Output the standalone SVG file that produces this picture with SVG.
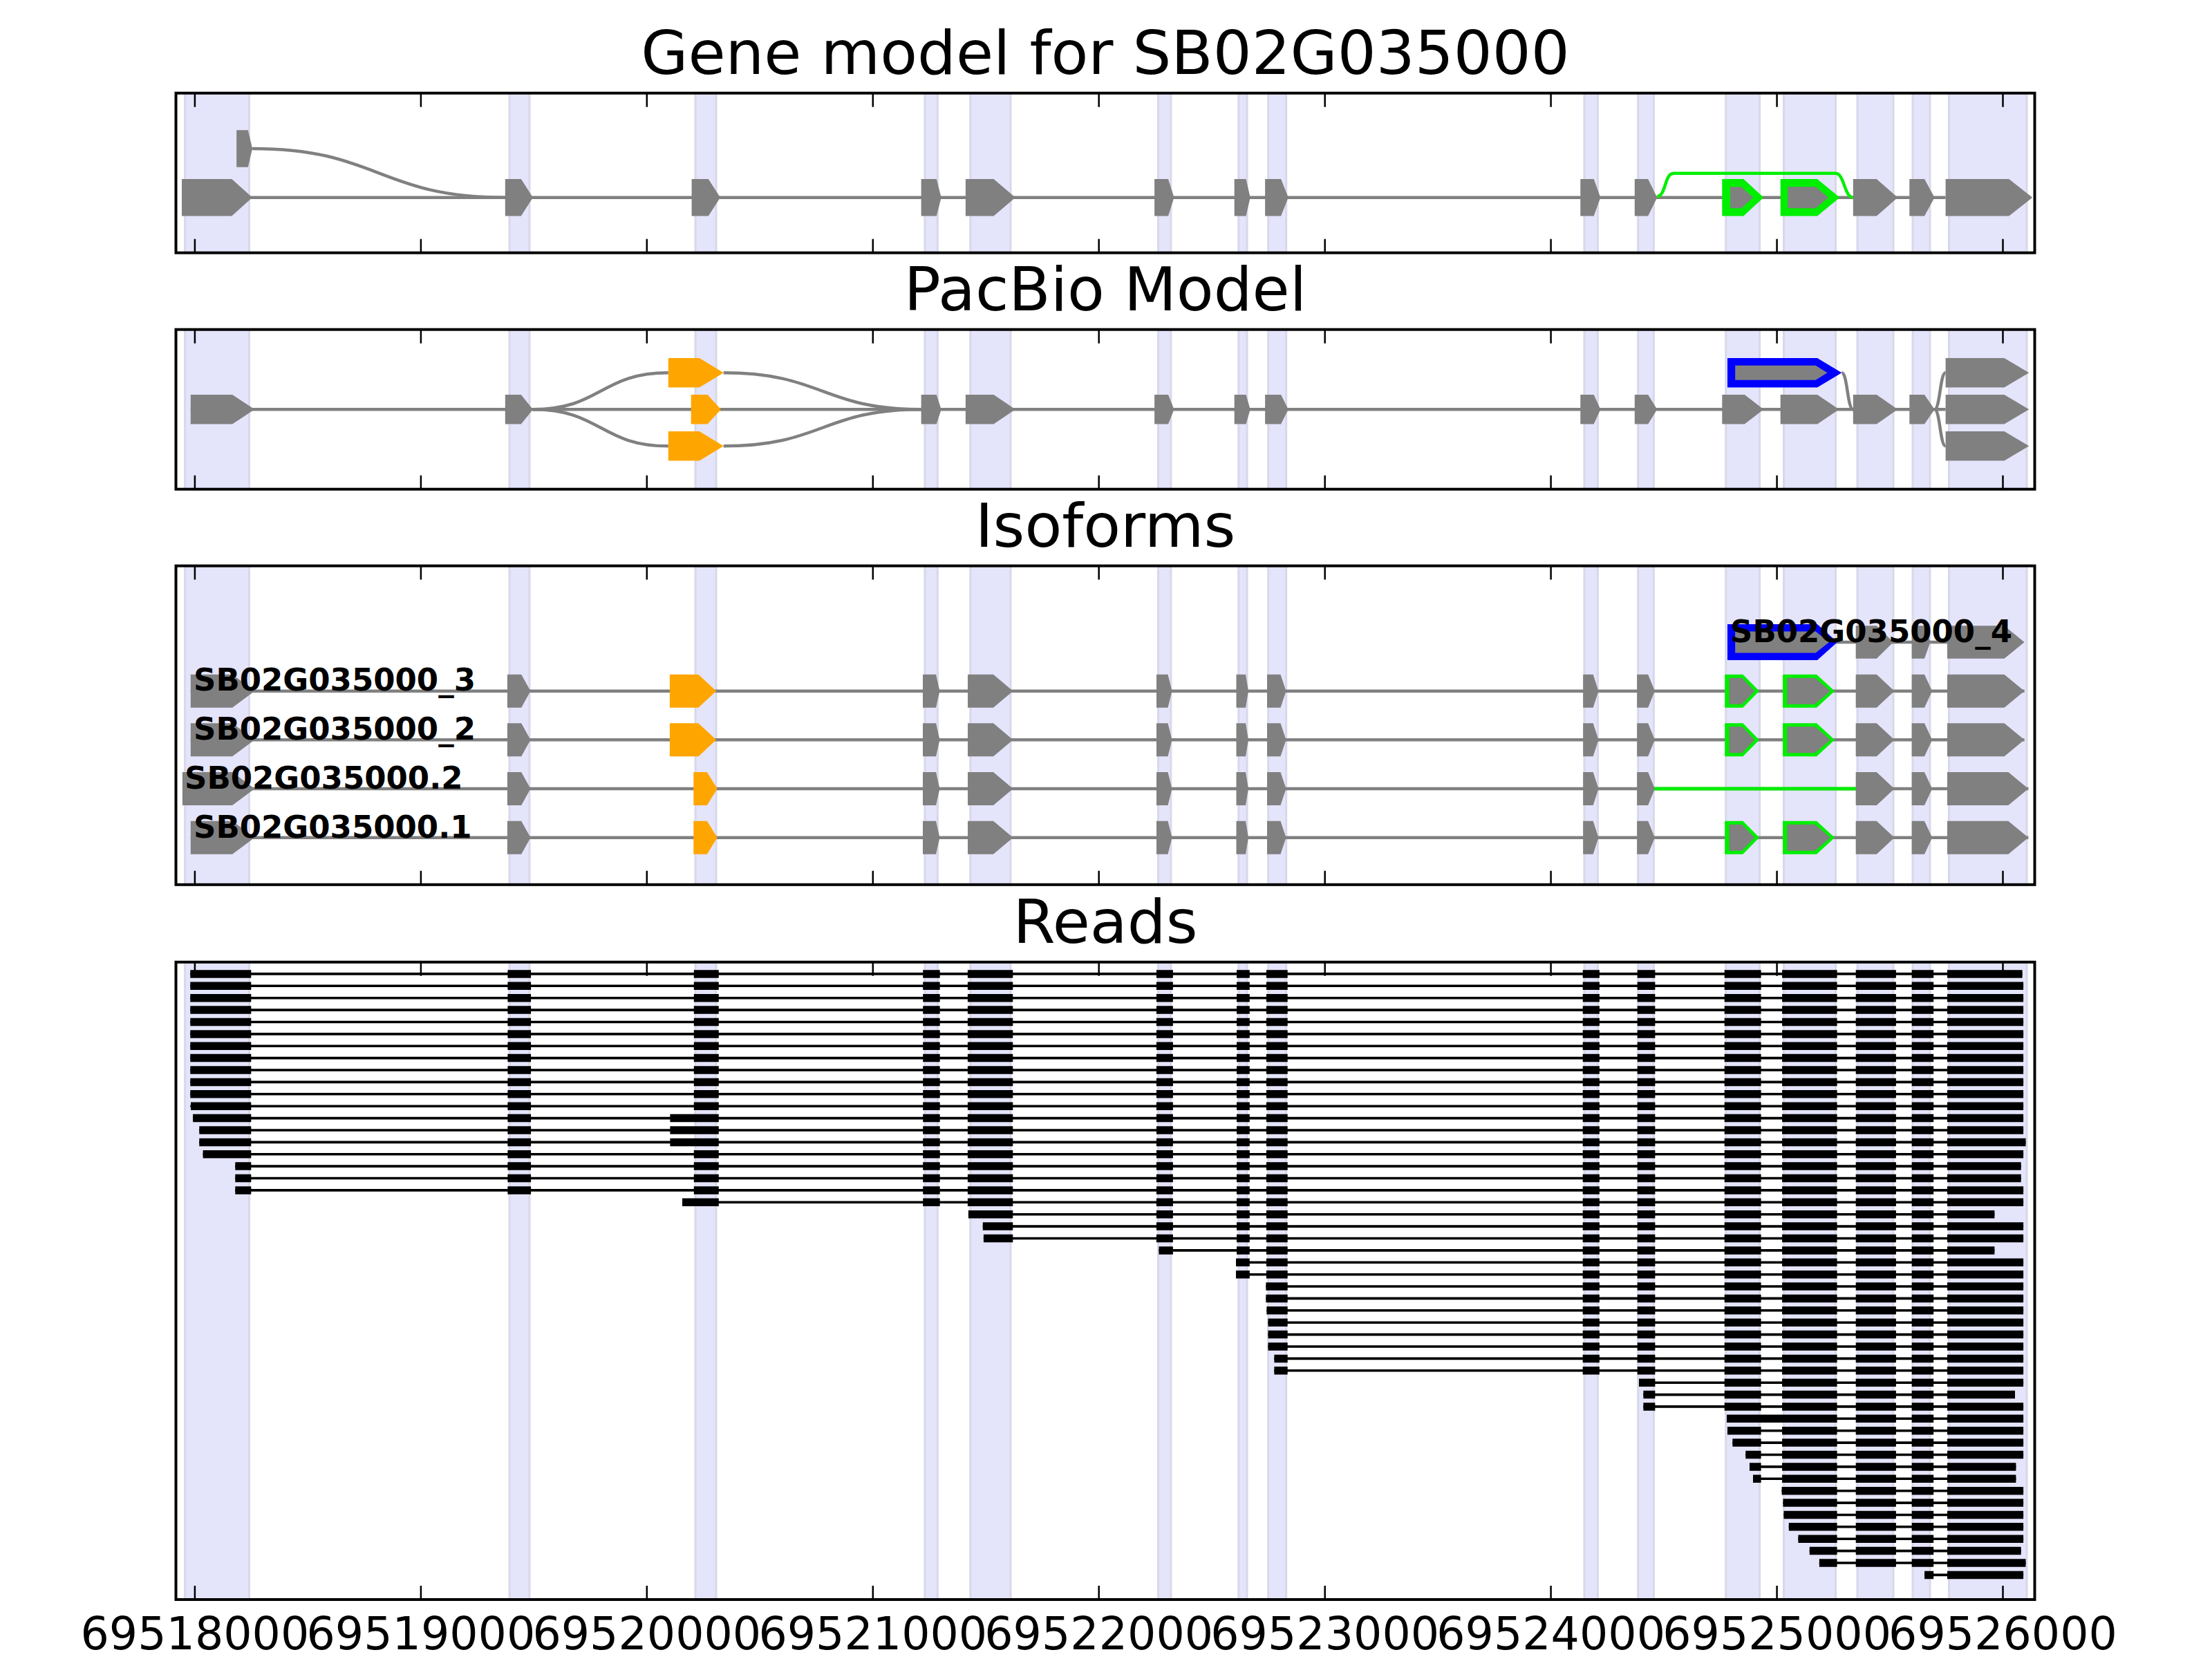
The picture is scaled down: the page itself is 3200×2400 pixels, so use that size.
<svg xmlns="http://www.w3.org/2000/svg" xmlns:xlink="http://www.w3.org/1999/xlink" width="3200" height="2400" viewBox="0 0 3200 2400">
<style>
.bg{fill:#ffffff}
.frame{fill:none;stroke:#000;stroke-width:4}
.span{fill:#e4e4fb;stroke:#d8d8ea;stroke-width:3}
.tick{fill:none;stroke:#000;stroke-width:2.5}
.ex{fill:#808080}
.or{fill:#ffa500}
.gr{fill:#00ee00}
.bl{fill:#0000ff}
.intr{fill:none;stroke:#808080;stroke-width:4.5}
.gline{fill:none;stroke:#00ee00;stroke-width:4.5}
.title{font-family:"DejaVu Sans","Liberation Sans",sans-serif;font-size:88px;text-anchor:middle;fill:#000}
.lab{font-family:"DejaVu Sans","Liberation Sans",sans-serif;font-size:45px;font-weight:bold;fill:#000}
.tl{font-family:"DejaVu Sans","Liberation Sans",sans-serif;font-size:65px;text-anchor:middle;fill:#000}
.blk{fill:none;stroke:#000;stroke-width:11.5}
.rl{fill:none;stroke:#000;stroke-width:3.6}
</style>
<defs>
<path id="k4" d="M1335.2 0H1359.7M1399.9 0H1465.3M1672.9 0H1696.9M1789 0H1807.8M1831.9 0H1862.7M2289.7 0H2313.9M2368.7 0H2394.4M2494.7 0H2547.6M2578.1 0H2657.6M2684.7 0H2742.9M2765.7 0H2797.2"/>
<path id="k6" d="M1672.9 0H1696.9M1789 0H1807.8M1831.9 0H1862.7M2289.7 0H2313.9M2368.7 0H2394.4M2494.7 0H2547.6M2578.1 0H2657.6M2684.7 0H2742.9M2765.7 0H2797.2"/>
<path id="k7" d="M1789 0H1807.8M1831.9 0H1862.7M2289.7 0H2313.9M2368.7 0H2394.4M2494.7 0H2547.6M2578.1 0H2657.6M2684.7 0H2742.9M2765.7 0H2797.2"/>
<path id="k8" d="M1831.9 0H1862.7M2289.7 0H2313.9M2368.7 0H2394.4M2494.7 0H2547.6M2578.1 0H2657.6M2684.7 0H2742.9M2765.7 0H2797.2"/>
<path id="k9" d="M2289.7 0H2313.9M2368.7 0H2394.4M2494.7 0H2547.6M2578.1 0H2657.6M2684.7 0H2742.9M2765.7 0H2797.2"/>
<path id="k11" d="M2494.7 0H2547.6M2578.1 0H2657.6M2684.7 0H2742.9M2765.7 0H2797.2"/>
<path id="k12" d="M2578.1 0H2657.6M2684.7 0H2742.9M2765.7 0H2797.2"/>
<path id="k13" d="M2684.7 0H2742.9M2765.7 0H2797.2"/>
<polygon id="q1" points="275.8,-24 336.1,-24 368.4,0 336.1,24 275.8,24"/>
<polygon id="q1b" points="263.9,-24 336.1,-24 368.4,0 336.1,24 263.9,24"/>
<polygon id="q2" points="733.9,-24 754.2,-24 767.5,0 754.2,24 733.9,24"/>
<polygon id="qoB" points="968.9,-24 1010.3,-24 1036.2,0 1010.3,24 968.9,24"/>
<polygon id="qoS" points="1003.3,-24 1022.9,-24 1037.6,0 1022.9,24 1003.3,24"/>
<polygon id="q4" points="1335,-24 1354,-24 1359.5,0 1354,24 1335,24"/>
<polygon id="q5" points="1400,-24 1437,-24 1465.5,0 1437,24 1400,24"/>
<polygon id="q6" points="1673,-24 1689.5,-24 1695.5,0 1689.5,24 1673,24"/>
<polygon id="q7" points="1788.5,-24 1802,-24 1806,0 1802,24 1788.5,24"/>
<polygon id="q8" points="1833,-24 1852.5,-24 1860.5,0 1852.5,24 1833,24"/>
<polygon id="q9" points="2290.2,-24 2304.7,-24 2312.5,0 2304.7,24 2290.2,24"/>
<polygon id="q10" points="2368.2,-24 2384.2,-24 2393.9,0 2384.2,24 2368.2,24"/>
<polygon id="q11o" points="2495.2,-24 2521.4,-24 2545.1,0 2521.4,24 2495.2,24"/>
<polygon id="q11i" points="2501.5,-19 2520,-19 2538.3,0 2520,19 2501.5,19"/>
<polygon id="q12o" points="2579,-24 2628,-24 2654.2,0 2628,24 2579,24"/>
<polygon id="q12i" points="2585.4,-19 2625.6,-19 2647.9,0 2625.6,19 2585.4,19"/>
<polygon id="q13" points="2684.7,-24 2714.8,-24 2740.5,0 2714.8,24 2684.7,24"/>
<polygon id="q14" points="2765.7,-24 2784,-24 2795.2,0 2784,24 2765.7,24"/>
<polygon id="q15a" points="2817,-24 2899.5,-24 2928.6,0 2899.5,24 2817,24"/>
<polygon id="q15b" points="2817,-24 2905.3,-24 2934.4,0 2905.3,24 2817,24"/>
</defs>
<rect class="bg" x="0" y="0" width="3200" height="2400"/>

<g id="titles">
<text class="title" x="1599" y="107">Gene model for SB02G035000</text>
<text class="title" x="1599" y="449">PacBio Model</text>
<text class="title" x="1599" y="791">Isoforms</text>
<text class="title" x="1599" y="1364">Reads</text>
</g>

<g id="exon-spans">
<g id="spans-p1">
<rect class="span" x="267.6" y="134.7" width="92.9" height="231"/><rect class="span" x="737" y="134.7" width="29" height="231"/><rect class="span" x="1006" y="134.7" width="30" height="231"/><rect class="span" x="1338" y="134.7" width="18.4" height="231"/><rect class="span" x="1403.8" y="134.7" width="58.2" height="231"/><rect class="span" x="1675.5" y="134.7" width="18.4" height="231"/><rect class="span" x="1791.8" y="134.7" width="12.2" height="231"/><rect class="span" x="1834.7" y="134.7" width="26" height="231"/><rect class="span" x="2292" y="134.7" width="19.5" height="231"/><rect class="span" x="2369.7" y="134.7" width="22.7" height="231"/><rect class="span" x="2496.7" y="134.7" width="48.9" height="231"/><rect class="span" x="2580.5" y="134.7" width="75.1" height="231"/><rect class="span" x="2687" y="134.7" width="52" height="231"/><rect class="span" x="2767" y="134.7" width="25" height="231"/><rect class="span" x="2819.5" y="134.7" width="112.5" height="231"/>
</g>
<g id="spans-p2">
<rect class="span" x="267.6" y="476.7" width="92.9" height="231"/><rect class="span" x="737" y="476.7" width="29" height="231"/><rect class="span" x="1006" y="476.7" width="30" height="231"/><rect class="span" x="1338" y="476.7" width="18.4" height="231"/><rect class="span" x="1403.8" y="476.7" width="58.2" height="231"/><rect class="span" x="1675.5" y="476.7" width="18.4" height="231"/><rect class="span" x="1791.8" y="476.7" width="12.2" height="231"/><rect class="span" x="1834.7" y="476.7" width="26" height="231"/><rect class="span" x="2292" y="476.7" width="19.5" height="231"/><rect class="span" x="2369.7" y="476.7" width="22.7" height="231"/><rect class="span" x="2496.7" y="476.7" width="48.9" height="231"/><rect class="span" x="2580.5" y="476.7" width="75.1" height="231"/><rect class="span" x="2687" y="476.7" width="52" height="231"/><rect class="span" x="2767" y="476.7" width="25" height="231"/><rect class="span" x="2819.5" y="476.7" width="112.5" height="231"/>
</g>
<g id="spans-p3">
<rect class="span" x="267.6" y="818.6" width="92.9" height="461.2"/><rect class="span" x="737" y="818.6" width="29" height="461.2"/><rect class="span" x="1006" y="818.6" width="30" height="461.2"/><rect class="span" x="1338" y="818.6" width="18.4" height="461.2"/><rect class="span" x="1403.8" y="818.6" width="58.2" height="461.2"/><rect class="span" x="1675.5" y="818.6" width="18.4" height="461.2"/><rect class="span" x="1791.8" y="818.6" width="12.2" height="461.2"/><rect class="span" x="1834.7" y="818.6" width="26" height="461.2"/><rect class="span" x="2292" y="818.6" width="19.5" height="461.2"/><rect class="span" x="2369.7" y="818.6" width="22.7" height="461.2"/><rect class="span" x="2496.7" y="818.6" width="48.9" height="461.2"/><rect class="span" x="2580.5" y="818.6" width="75.1" height="461.2"/><rect class="span" x="2687" y="818.6" width="52" height="461.2"/><rect class="span" x="2767" y="818.6" width="25" height="461.2"/><rect class="span" x="2819.5" y="818.6" width="112.5" height="461.2"/>
</g>
<g id="spans-p4">
<rect class="span" x="267.6" y="1391.8" width="92.9" height="922.2"/><rect class="span" x="737" y="1391.8" width="29" height="922.2"/><rect class="span" x="1006" y="1391.8" width="30" height="922.2"/><rect class="span" x="1338" y="1391.8" width="18.4" height="922.2"/><rect class="span" x="1403.8" y="1391.8" width="58.2" height="922.2"/><rect class="span" x="1675.5" y="1391.8" width="18.4" height="922.2"/><rect class="span" x="1791.8" y="1391.8" width="12.2" height="922.2"/><rect class="span" x="1834.7" y="1391.8" width="26" height="922.2"/><rect class="span" x="2292" y="1391.8" width="19.5" height="922.2"/><rect class="span" x="2369.7" y="1391.8" width="22.7" height="922.2"/><rect class="span" x="2496.7" y="1391.8" width="48.9" height="922.2"/><rect class="span" x="2580.5" y="1391.8" width="75.1" height="922.2"/><rect class="span" x="2687" y="1391.8" width="52" height="922.2"/><rect class="span" x="2767" y="1391.8" width="25" height="922.2"/><rect class="span" x="2819.5" y="1391.8" width="112.5" height="922.2"/>
</g>
</g>

<g id="connectors">
<g id="conn-gene-model">
<path class="intr" d="M263 285.7H2814.6"/>
<path class="intr" d="M365.1 215C548 215 548 285.7 730.8 285.7"/>
<path class="gline" d="M2397.3 284C2410 284 2408 250.7 2421 250.7L2655.6 250.7C2668 250.7 2668 285.7 2680.8 285.7"/>
</g>
<g id="conn-pacbio">
<path class="intr" d="M275.8 592.3H2814.6"/>
<path class="intr" d="M771 592.3C869 592.3 869 539.3 966.8 539.3"/>
<path class="intr" d="M771 592.3C869 592.3 869 645.3 966.8 645.3"/>
<path class="intr" d="M1046.7 539.3C1190 539.3 1190 592.3 1332.6 592.3"/>
<path class="intr" d="M1046.7 645.3C1190 645.3 1190 592.3 1332.6 592.3"/>
<path class="intr" d="M2664.4 539.3C2672.6 539.3 2672.6 592.3 2680.8 592.3"/>
<path class="intr" d="M2798.6 592.3C2806.6 592.3 2806.6 539.3 2814.6 539.3"/>
<path class="intr" d="M2798.6 592.3C2806.6 592.3 2806.6 645.3 2814.6 645.3"/>
</g>
<g id="conn-isoforms">
<path class="intr" d="M2499 929H2817M275.8 999.7H2928.6M275.8 1070.3H2928.6M263.9 1141H2934.4M275.8 1211.7H2934.4"/>
<path class="gline" style="stroke-width:5" d="M2390 1141H2688"/>
</g>
<g id="conn-reads">
<path class="rl" d="M275.3 1408.9H2925.6M275.3 1426.3H2927.1M275.3 1443.7H2927.1M275.3 1461.1H2927.1M275.3 1478.5H2927.1M275.3 1495.9H2927.1M275.3 1513.2H2927.1M275.3 1530.6H2927.1M275.3 1548H2927.1M275.3 1565.4H2927.1M275.3 1582.8H2927.1M275.3 1600.2H2927.1M279.1 1617.6H2927.1M288.3 1635H2927.1M288.3 1652.4H2930.5M293.6 1669.8H2927.1M340.3 1687.1H2923.7M340.3 1704.5H2923.7M340.3 1721.9H2927.1M987 1739.3H2927.1M1400.9 1756.7H2885.4M1421.8 1774.1H2927.1M1422.9 1791.5H2927.1M1676.5 1808.9H2885.4M1788 1826.3H2927.1M1788 1843.7H2927.1M1831.4 1861H2927.1M1831.4 1878.4H2927.1M1832.4 1895.8H2927.1M1834.5 1913.2H2927.1M1834.5 1930.6H2927.1M1834.5 1948H2927.1M1843.4 1965.4H2927.1M1843.4 1982.8H2927.1M2371 2000.2H2927.1M2377.4 2017.6H2915M2377.4 2034.9H2927.1M2498 2052.3H2927.1M2499 2069.7H2927.1M2506.4 2087.1H2927.1M2525.3 2104.5H2927.1M2531 2121.9H2916.4M2536 2139.3H2916.4M2577.6 2156.7H2927.1M2579.5 2174.1H2927.1M2580.5 2191.5H2927.1M2587.8 2208.8H2927.1M2601.4 2226.2H2927.1M2617.8 2243.6H2923.7M2631.9 2261H2930.5M2784.1 2278.4H2927.1"/>
</g>
</g>

<g id="gene-model">
<polygon class="ex" points="263,259 335.3,259 365,285.7 335.3,312.4 263,312.4"/>
<polygon class="ex" points="342.2,188.3 358.8,188.3 365.1,215 358.8,241.7 342.2,241.7"/>
<polygon class="ex" points="730.8,259 753.8,259 771,285.7 753.8,312.4 730.8,312.4"/>
<polygon class="ex" points="1000.6,259 1024.8,259 1042,285.7 1024.8,312.4 1000.6,312.4"/>
<polygon class="ex" points="1332.6,259 1354.8,259 1361.7,285.7 1354.8,312.4 1332.6,312.4"/>
<polygon class="ex" points="1396.9,259 1437.5,259 1468.9,285.7 1437.5,312.4 1396.9,312.4"/>
<polygon class="ex" points="1670.1,259 1690,259 1698.5,285.7 1690,312.4 1670.1,312.4"/>
<polygon class="ex" points="1785.7,259 1802.5,259 1808.7,285.7 1802.5,312.4 1785.7,312.4"/>
<polygon class="ex" points="1830.1,259 1853.1,259 1863.8,285.7 1853.1,312.4 1830.1,312.4"/>
<polygon class="ex" points="2286.3,259 2305.7,259 2315.4,285.7 2305.7,312.4 2286.3,312.4"/>
<polygon class="ex" points="2364.8,259 2384.2,259 2397.3,285.7 2384.2,312.4 2364.8,312.4"/>
<polygon class="gr" points="2491.3,259 2522.3,259 2551.4,285.7 2522.3,312.4 2491.3,312.4"/>
<polygon class="ex" points="2503,270.2 2519,270.2 2536,285.7 2519,301.2 2503,301.2"/>
<polygon class="gr" points="2575.7,259 2629,259 2661.5,285.7 2629,312.4 2575.7,312.4"/>
<polygon class="ex" points="2586.3,270.2 2626.6,270.2 2645,285.7 2626.6,301.2 2586.3,301.2"/>
<polygon class="ex" points="2680.8,259 2714.8,259 2745.3,285.7 2714.8,312.4 2680.8,312.4"/>
<polygon class="ex" points="2762.3,259 2784.1,259 2798.6,285.7 2784.1,312.4 2762.3,312.4"/>
<polygon class="ex" points="2814.6,259 2906.3,259 2940.2,285.7 2906.3,312.4 2814.6,312.4"/>
</g>

<g id="pacbio-model">
<polygon class="ex" points="275.8,571 336.1,571 368.4,592.3 336.1,613.6 275.8,613.6"/>
<polygon class="ex" points="730.8,571 753.8,571 771,592.3 753.8,613.6 730.8,613.6"/>
<polygon class="or" points="999.7,571 1023.6,571 1042.9,592.3 1023.6,613.6 999.7,613.6"/>
<polygon class="or" points="966.8,518 1011.7,518 1046.7,539.3 1011.7,560.6 966.8,560.6"/>
<polygon class="or" points="966.8,624 1011.7,624 1046.7,645.3 1011.7,666.6 966.8,666.6"/>
<polygon class="ex" points="1332.6,571 1354.8,571 1361.7,592.3 1354.8,613.6 1332.6,613.6"/>
<polygon class="ex" points="1396.9,571 1437.5,571 1468.9,592.3 1437.5,613.6 1396.9,613.6"/>
<polygon class="ex" points="1670.1,571 1690,571 1698.5,592.3 1690,613.6 1670.1,613.6"/>
<polygon class="ex" points="1785.7,571 1802.5,571 1808.7,592.3 1802.5,613.6 1785.7,613.6"/>
<polygon class="ex" points="1830.1,571 1853.1,571 1863.8,592.3 1853.1,613.6 1830.1,613.6"/>
<polygon class="ex" points="2286.3,571 2305.7,571 2315.4,592.3 2305.7,613.6 2286.3,613.6"/>
<polygon class="ex" points="2364.8,571 2384.2,571 2397.3,592.3 2384.2,613.6 2364.8,613.6"/>
<polygon class="ex" points="2491.3,571 2523.8,571 2551.4,592.3 2523.8,613.6 2491.3,613.6"/>
<polygon class="ex" points="2575.7,571 2629,571 2660.5,592.3 2629,613.6 2575.7,613.6"/>
<polygon class="ex" points="2680.8,571 2714.8,571 2745.3,592.3 2714.8,613.6 2680.8,613.6"/>
<polygon class="ex" points="2762.3,571 2784.1,571 2798.6,592.3 2784.1,613.6 2762.3,613.6"/>
<polygon class="ex" points="2814.6,571 2899.5,571 2935.3,592.3 2899.5,613.6 2814.6,613.6"/>
<polygon class="bl" points="2499,518 2629,518 2664.4,539.3 2629,560.6 2499,560.6"/>
<polygon class="ex" points="2510.2,528.8 2626.6,528.8 2643.5,539.3 2626.6,549.8 2510.2,549.8"/>
<polygon class="ex" points="2814.6,518 2899.5,518 2935.3,539.3 2899.5,560.6 2814.6,560.6"/>
<polygon class="ex" points="2814.6,624 2899.5,624 2935.3,645.3 2899.5,666.6 2814.6,666.6"/>
</g>

<g id="isoforms">
<g id="iso-SB02G035000_4">
<polygon class="bl" points="2499,903 2629,903 2658,929 2629,955 2499,955"/>
<polygon class="ex" points="2510.2,913.5 2626.6,913.5 2646,929 2626.6,944.5 2510.2,944.5"/>
<polygon class="ex" points="2684.7,905.3 2714.8,905.3 2739,929 2714.8,952.7 2684.7,952.7"/>
<polygon class="ex" points="2765.7,905.3 2784,905.3 2792.4,929 2784,952.7 2765.7,952.7"/>
<polygon class="ex" points="2817,905.3 2899.5,905.3 2928.6,929 2899.5,952.7 2817,952.7"/>
</g>
<g id="iso-SB02G035000_3" transform="translate(0,999.7)">
<use href="#q1" class="ex"/><use href="#q2" class="ex"/><use href="#qoB" class="or"/><use href="#q4" class="ex"/><use href="#q5" class="ex"/><use href="#q6" class="ex"/><use href="#q7" class="ex"/><use href="#q8" class="ex"/><use href="#q9" class="ex"/><use href="#q10" class="ex"/><use href="#q11o" class="gr"/><use href="#q11i" class="ex"/><use href="#q12o" class="gr"/><use href="#q12i" class="ex"/><use href="#q13" class="ex"/><use href="#q14" class="ex"/><use href="#q15a" class="ex"/>
</g>
<g id="iso-SB02G035000_2" transform="translate(0,1070.3)">
<use href="#q1" class="ex"/><use href="#q2" class="ex"/><use href="#qoB" class="or"/><use href="#q4" class="ex"/><use href="#q5" class="ex"/><use href="#q6" class="ex"/><use href="#q7" class="ex"/><use href="#q8" class="ex"/><use href="#q9" class="ex"/><use href="#q10" class="ex"/><use href="#q11o" class="gr"/><use href="#q11i" class="ex"/><use href="#q12o" class="gr"/><use href="#q12i" class="ex"/><use href="#q13" class="ex"/><use href="#q14" class="ex"/><use href="#q15a" class="ex"/>
</g>
<g id="iso-SB02G035000.2" transform="translate(0,1141)">
<use href="#q1b" class="ex"/><use href="#q2" class="ex"/><use href="#qoS" class="or"/><use href="#q4" class="ex"/><use href="#q5" class="ex"/><use href="#q6" class="ex"/><use href="#q7" class="ex"/><use href="#q8" class="ex"/><use href="#q9" class="ex"/><use href="#q10" class="ex"/><use href="#q13" class="ex"/><use href="#q14" class="ex"/><use href="#q15b" class="ex"/>
</g>
<g id="iso-SB02G035000.1" transform="translate(0,1211.7)">
<use href="#q1" class="ex"/><use href="#q2" class="ex"/><use href="#qoS" class="or"/><use href="#q4" class="ex"/><use href="#q5" class="ex"/><use href="#q6" class="ex"/><use href="#q7" class="ex"/><use href="#q8" class="ex"/><use href="#q9" class="ex"/><use href="#q10" class="ex"/><use href="#q11o" class="gr"/><use href="#q11i" class="ex"/><use href="#q12o" class="gr"/><use href="#q12i" class="ex"/><use href="#q13" class="ex"/><use href="#q14" class="ex"/><use href="#q15b" class="ex"/>
</g>
</g>

<g id="reads">
<g id="read-1" transform="translate(0,1408.9)"><path class="blk" d="M275.3 0H363.3M734.4 0H768.1M1003.8 0H1039.8M2817 0H2925.6"/><use href="#k4" class="blk"/></g>
<g id="read-2" transform="translate(0,1426.3)"><path class="blk" d="M275.3 0H363.3M734.4 0H768.1M1003.8 0H1039.8M2817 0H2927.1"/><use href="#k4" class="blk"/></g>
<g id="read-3" transform="translate(0,1443.7)"><path class="blk" d="M275.3 0H363.3M734.4 0H768.1M1003.8 0H1039.8M2817 0H2927.1"/><use href="#k4" class="blk"/></g>
<g id="read-4" transform="translate(0,1461.1)"><path class="blk" d="M275.3 0H363.3M734.4 0H768.1M1003.8 0H1039.8M2817 0H2927.1"/><use href="#k4" class="blk"/></g>
<g id="read-5" transform="translate(0,1478.5)"><path class="blk" d="M275.3 0H363.3M734.4 0H768.1M1003.8 0H1039.8M2817 0H2927.1"/><use href="#k4" class="blk"/></g>
<g id="read-6" transform="translate(0,1495.9)"><path class="blk" d="M275.3 0H363.3M734.4 0H768.1M1003.8 0H1039.8M2817 0H2927.1"/><use href="#k4" class="blk"/></g>
<g id="read-7" transform="translate(0,1513.2)"><path class="blk" d="M275.3 0H363.3M734.4 0H768.1M1003.8 0H1039.8M2817 0H2927.1"/><use href="#k4" class="blk"/></g>
<g id="read-8" transform="translate(0,1530.6)"><path class="blk" d="M275.3 0H363.3M734.4 0H768.1M1003.8 0H1039.8M2817 0H2927.1"/><use href="#k4" class="blk"/></g>
<g id="read-9" transform="translate(0,1548)"><path class="blk" d="M275.3 0H363.3M734.4 0H768.1M1003.8 0H1039.8M2817 0H2927.1"/><use href="#k4" class="blk"/></g>
<g id="read-10" transform="translate(0,1565.4)"><path class="blk" d="M275.3 0H363.3M734.4 0H768.1M1003.8 0H1039.8M2817 0H2927.1"/><use href="#k4" class="blk"/></g>
<g id="read-11" transform="translate(0,1582.8)"><path class="blk" d="M275.3 0H363.3M734.4 0H768.1M1003.8 0H1039.8M2817 0H2927.1"/><use href="#k4" class="blk"/></g>
<g id="read-12" transform="translate(0,1600.2)"><path class="blk" d="M276 0H363.3M734.4 0H768.1M1003.8 0H1039.8M2817 0H2927.1"/><use href="#k4" class="blk"/></g>
<g id="read-13" transform="translate(0,1617.6)"><path class="blk" d="M279.1 0H363.3M734.4 0H768.1M969.4 0H1039.8M2817 0H2927.1"/><use href="#k4" class="blk"/></g>
<g id="read-14" transform="translate(0,1635)"><path class="blk" d="M288.3 0H363.3M734.4 0H768.1M969.4 0H1039.8M2817 0H2927.1"/><use href="#k4" class="blk"/></g>
<g id="read-15" transform="translate(0,1652.4)"><path class="blk" d="M288.3 0H363.3M734.4 0H768.1M969.4 0H1039.8M2817 0H2930.5"/><use href="#k4" class="blk"/></g>
<g id="read-16" transform="translate(0,1669.8)"><path class="blk" d="M293.6 0H363.3M734.4 0H768.1M1003.8 0H1039.8M2817 0H2927.1"/><use href="#k4" class="blk"/></g>
<g id="read-17" transform="translate(0,1687.1)"><path class="blk" d="M340.3 0H363.3M734.4 0H768.1M1003.8 0H1039.8M2817 0H2923.7"/><use href="#k4" class="blk"/></g>
<g id="read-18" transform="translate(0,1704.5)"><path class="blk" d="M340.3 0H363.3M734.4 0H768.1M1003.8 0H1039.8M2817 0H2923.7"/><use href="#k4" class="blk"/></g>
<g id="read-19" transform="translate(0,1721.9)"><path class="blk" d="M340.3 0H363.3M734.4 0H768.1M1003.8 0H1039.8M2817 0H2927.1"/><use href="#k4" class="blk"/></g>
<g id="read-20" transform="translate(0,1739.3)"><path class="blk" d="M987 0H1039.8M2817 0H2927.1"/><use href="#k4" class="blk"/></g>
<g id="read-21" transform="translate(0,1756.7)"><path class="blk" d="M1400.9 0H1465.3M2817 0H2885.4"/><use href="#k6" class="blk"/></g>
<g id="read-22" transform="translate(0,1774.1)"><path class="blk" d="M1421.8 0H1465.3M2817 0H2927.1"/><use href="#k6" class="blk"/></g>
<g id="read-23" transform="translate(0,1791.5)"><path class="blk" d="M1422.9 0H1465.3M2817 0H2927.1"/><use href="#k6" class="blk"/></g>
<g id="read-24" transform="translate(0,1808.9)"><path class="blk" d="M1676.5 0H1696.9M2817 0H2885.4"/><use href="#k7" class="blk"/></g>
<g id="read-25" transform="translate(0,1826.3)"><path class="blk" d="M1788 0H1807.8M2817 0H2927.1"/><use href="#k8" class="blk"/></g>
<g id="read-26" transform="translate(0,1843.7)"><path class="blk" d="M1788 0H1807.8M2817 0H2927.1"/><use href="#k8" class="blk"/></g>
<g id="read-27" transform="translate(0,1861)"><path class="blk" d="M1831.4 0H1862.7M2817 0H2927.1"/><use href="#k9" class="blk"/></g>
<g id="read-28" transform="translate(0,1878.4)"><path class="blk" d="M1831.4 0H1862.7M2817 0H2927.1"/><use href="#k9" class="blk"/></g>
<g id="read-29" transform="translate(0,1895.8)"><path class="blk" d="M1832.4 0H1862.7M2817 0H2927.1"/><use href="#k9" class="blk"/></g>
<g id="read-30" transform="translate(0,1913.2)"><path class="blk" d="M1834.5 0H1862.7M2817 0H2927.1"/><use href="#k9" class="blk"/></g>
<g id="read-31" transform="translate(0,1930.6)"><path class="blk" d="M1834.5 0H1862.7M2817 0H2927.1"/><use href="#k9" class="blk"/></g>
<g id="read-32" transform="translate(0,1948)"><path class="blk" d="M1834.5 0H1862.7M2817 0H2927.1"/><use href="#k9" class="blk"/></g>
<g id="read-33" transform="translate(0,1965.4)"><path class="blk" d="M1843.4 0H1862.7M2817 0H2927.1"/><use href="#k9" class="blk"/></g>
<g id="read-34" transform="translate(0,1982.8)"><path class="blk" d="M1843.4 0H1862.7M2817 0H2927.1"/><use href="#k9" class="blk"/></g>
<g id="read-35" transform="translate(0,2000.2)"><path class="blk" d="M2371 0H2394.4M2817 0H2927.1"/><use href="#k11" class="blk"/></g>
<g id="read-36" transform="translate(0,2017.6)"><path class="blk" d="M2377.4 0H2394.4M2817 0H2915"/><use href="#k11" class="blk"/></g>
<g id="read-37" transform="translate(0,2034.9)"><path class="blk" d="M2377.4 0H2394.4M2817 0H2927.1"/><use href="#k11" class="blk"/></g>
<g id="read-38" transform="translate(0,2052.3)"><path class="blk" d="M2498 0H2657.6M2817 0H2927.1"/><use href="#k13" class="blk"/></g>
<g id="read-39" transform="translate(0,2069.7)"><path class="blk" d="M2499 0H2547.6M2817 0H2927.1"/><use href="#k12" class="blk"/></g>
<g id="read-40" transform="translate(0,2087.1)"><path class="blk" d="M2506.4 0H2547.6M2817 0H2927.1"/><use href="#k12" class="blk"/></g>
<g id="read-41" transform="translate(0,2104.5)"><path class="blk" d="M2525.3 0H2547.6M2817 0H2927.1"/><use href="#k12" class="blk"/></g>
<g id="read-42" transform="translate(0,2121.9)"><path class="blk" d="M2531 0H2547.6M2817 0H2916.4"/><use href="#k12" class="blk"/></g>
<g id="read-43" transform="translate(0,2139.3)"><path class="blk" d="M2536 0H2547.6M2817 0H2916.4"/><use href="#k12" class="blk"/></g>
<g id="read-44" transform="translate(0,2156.7)"><path class="blk" d="M2577.6 0H2657.6M2817 0H2927.1"/><use href="#k13" class="blk"/></g>
<g id="read-45" transform="translate(0,2174.1)"><path class="blk" d="M2579.5 0H2657.6M2817 0H2927.1"/><use href="#k13" class="blk"/></g>
<g id="read-46" transform="translate(0,2191.5)"><path class="blk" d="M2580.5 0H2657.6M2817 0H2927.1"/><use href="#k13" class="blk"/></g>
<g id="read-47" transform="translate(0,2208.8)"><path class="blk" d="M2587.8 0H2657.6M2817 0H2927.1"/><use href="#k13" class="blk"/></g>
<g id="read-48" transform="translate(0,2226.2)"><path class="blk" d="M2601.4 0H2657.6M2817 0H2927.1"/><use href="#k13" class="blk"/></g>
<g id="read-49" transform="translate(0,2243.6)"><path class="blk" d="M2617.8 0H2657.6M2817 0H2923.7"/><use href="#k13" class="blk"/></g>
<g id="read-50" transform="translate(0,2261)"><path class="blk" d="M2631.9 0H2657.6M2817 0H2930.5"/><use href="#k13" class="blk"/></g>
<g id="read-51" transform="translate(0,2278.4)"><path class="blk" d="M2784.1 0H2797.2M2817 0H2927.1"/></g>
</g>

<g id="axes">
<rect class="frame" x="254.5" y="134.7" width="2689" height="231"/>
<rect class="frame" x="254.5" y="476.7" width="2689" height="231"/>
<rect class="frame" x="254.5" y="818.6" width="2689" height="461.2"/>
<rect class="frame" x="254.5" y="1391.8" width="2689" height="922.2"/>
<path class="tick" d="M281.9 134.7v20M608.9 134.7v20M935.8 134.7v20M1262.8 134.7v20M1589.7 134.7v20M1916.7 134.7v20M2243.6 134.7v20M2570.6 134.7v20M2897.5 134.7v20M281.9 365.7v-20M608.9 365.7v-20M935.8 365.7v-20M1262.8 365.7v-20M1589.7 365.7v-20M1916.7 365.7v-20M2243.6 365.7v-20M2570.6 365.7v-20M2897.5 365.7v-20"/>
<path class="tick" d="M281.9 476.7v20M608.9 476.7v20M935.8 476.7v20M1262.8 476.7v20M1589.7 476.7v20M1916.7 476.7v20M2243.6 476.7v20M2570.6 476.7v20M2897.5 476.7v20M281.9 707.7v-20M608.9 707.7v-20M935.8 707.7v-20M1262.8 707.7v-20M1589.7 707.7v-20M1916.7 707.7v-20M2243.6 707.7v-20M2570.6 707.7v-20M2897.5 707.7v-20"/>
<path class="tick" d="M281.9 818.6v20M608.9 818.6v20M935.8 818.6v20M1262.8 818.6v20M1589.7 818.6v20M1916.7 818.6v20M2243.6 818.6v20M2570.6 818.6v20M2897.5 818.6v20M281.9 1279.8v-20M608.9 1279.8v-20M935.8 1279.8v-20M1262.8 1279.8v-20M1589.7 1279.8v-20M1916.7 1279.8v-20M2243.6 1279.8v-20M2570.6 1279.8v-20M2897.5 1279.8v-20"/>
<path class="tick" d="M281.9 1391.8v20M608.9 1391.8v20M935.8 1391.8v20M1262.8 1391.8v20M1589.7 1391.8v20M1916.7 1391.8v20M2243.6 1391.8v20M2570.6 1391.8v20M2897.5 1391.8v20M281.9 2314v-20M608.9 2314v-20M935.8 2314v-20M1262.8 2314v-20M1589.7 2314v-20M1916.7 2314v-20M2243.6 2314v-20M2570.6 2314v-20M2897.5 2314v-20"/>
<g id="tick-labels">
<text class="tl" x="281.9" y="2386">69518000</text>
<text class="tl" x="608.9" y="2386">69519000</text>
<text class="tl" x="935.8" y="2386">69520000</text>
<text class="tl" x="1262.8" y="2386">69521000</text>
<text class="tl" x="1589.7" y="2386">69522000</text>
<text class="tl" x="1916.7" y="2386">69523000</text>
<text class="tl" x="2243.6" y="2386">69524000</text>
<text class="tl" x="2570.6" y="2386">69525000</text>
<text class="tl" x="2897.5" y="2386">69526000</text>
</g>
</g>

<g id="isoform-labels">
<text class="lab" x="2503" y="929">SB02G035000_4</text>
<text class="lab" x="280" y="999">SB02G035000_3</text>
<text class="lab" x="280" y="1070">SB02G035000_2</text>
<text class="lab" x="267" y="1141">SB02G035000.2</text>
<text class="lab" x="280" y="1211.7">SB02G035000.1</text>
</g>
</svg>
